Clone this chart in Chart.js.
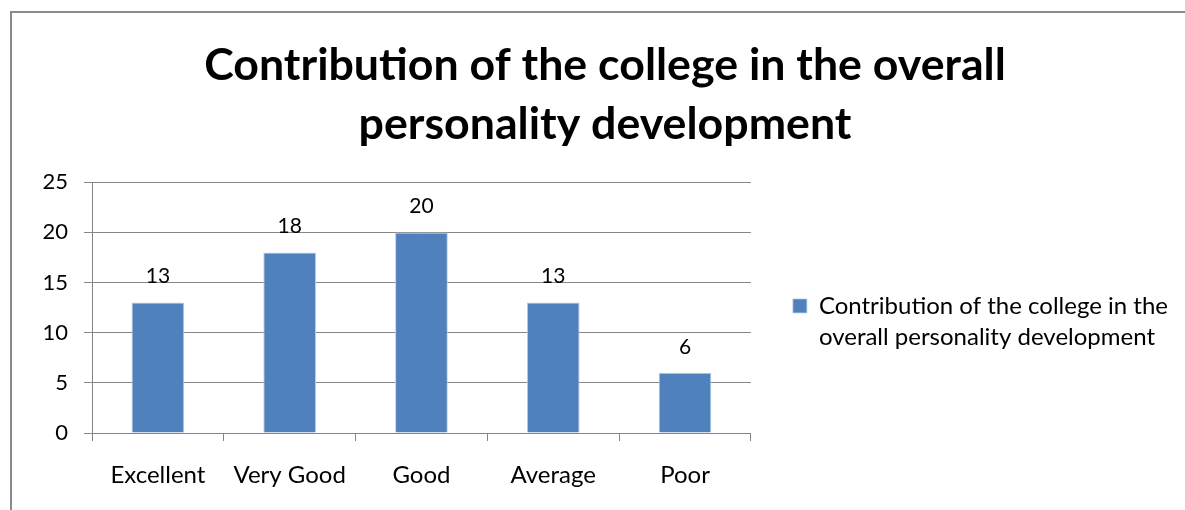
<!DOCTYPE html>
<html>
<head>
<meta charset="utf-8">
<script src="https://cdn.jsdelivr.net/npm/chart.js@4"></script>
<style>
  body { margin: 0; background: #fff; overflow: hidden; }
  #frame {
    position: absolute; left: 10px; top: 11px;
    width: 1300px; height: 600px;
    border: 2px solid #8a8a8a;
  }
  #wrap { position: absolute; left: 0; top: 0; width: 1185px; height: 510px; }
</style>
</head>
<body>
<div id="frame"></div>
<div id="wrap"><canvas id="chart" width="1185" height="510"></canvas></div>
<script>
// Chart data
const categories = ['Excellent', 'Very Good', 'Good', 'Average', 'Poor'];
const ratings = [13, 18, 20, 13, 6];
const seriesName = ['Contribution of the college in the', 'overall personality development'];
const chartTitle = ['Contribution of the college in the overall', 'personality development'];

const fontFamily = 'Lato, "Open Sans", sans-serif';
const gridColor = '#868686';

// Draw the value above each bar
const valueLabels = {
  id: 'valueLabels',
  afterDatasetsDraw(chart) {
    const ctx = chart.ctx;
    const meta = chart.getDatasetMeta(0);
    ctx.save();
    ctx.font = '21px ' + fontFamily;
    ctx.fillStyle = '#000';
    ctx.textAlign = 'center';
    ctx.textBaseline = 'middle';
    meta.data.forEach((bar, i) => {
      ctx.fillText(String(ratings[i]), bar.x, bar.y - 26);
    });
    ctx.restore();
  }
};

// The layout caps a right legend at a quarter of the width; let it be as wide as its text
const wideLegend = {
  id: 'wideLegend',
  afterInit(chart) {
    const legend = chart.legend;
    if (!legend) return;
    const update = legend.update;
    legend.update = function(maxWidth, maxHeight, margins) {
      return update.call(this, Math.max(maxWidth, 460), maxHeight, margins);
    };
  }
};

const ctx = document.getElementById('chart').getContext('2d');
new Chart(ctx, {
  type: 'bar',
  data: {
    labels: categories,
    datasets: [{
      label: seriesName,
      data: ratings,
      backgroundColor: '#4F81BD',
      borderColor: '#B9CDE6',
      borderWidth: { top: 1, left: 1, right: 1, bottom: 0 },
      categoryPercentage: 1,
      barPercentage: 0.4
    }]
  },
  options: {
    responsive: false,
    animation: false,
    layout: { padding: { left: 32, right: 7, top: 10, bottom: 0 } },
    plugins: {
      title: {
        display: true,
        text: chartTitle,
        color: '#000',
        font: { family: fontFamily, size: 44.7, weight: 'bold', lineHeight: 1.3 },
        padding: { top: 27, bottom: 29 }
      },
      legend: {
        position: 'right',
        fullSize: false,
        title: { display: true, text: ' ', font: { size: 10, lineHeight: 1.2 }, padding: 11.5 },
        labels: {
          color: '#000',
          boxWidth: 14,
          boxHeight: 14,
          padding: 42,
          font: { family: fontFamily, size: 24, lineHeight: 1.3 }
        }
      },
      tooltip: { enabled: false }
    },
    scales: {
      x: {
        grid: {
          drawOnChartArea: false,
          drawTicks: true,
          tickLength: 8,
          color: gridColor
        },
        border: { color: gridColor },
        ticks: {
          color: '#000',
          padding: 20,
          maxRotation: 0,
          font: { family: fontFamily, size: 24 }
        },
        afterFit(axis) { axis.height = 77; }
      },
      y: {
        min: 0,
        max: 25,
        grid: {
          color: gridColor,
          drawTicks: true,
          tickLength: 8
        },
        border: { color: gridColor },
        ticks: {
          stepSize: 5,
          color: '#000',
          padding: 16,
          font: { family: fontFamily, size: 22 }
        },
        afterFit(axis) { axis.width = 60; }
      }
    }
  },
  plugins: [valueLabels, wideLegend]
});
</script>
</body>
</html>
